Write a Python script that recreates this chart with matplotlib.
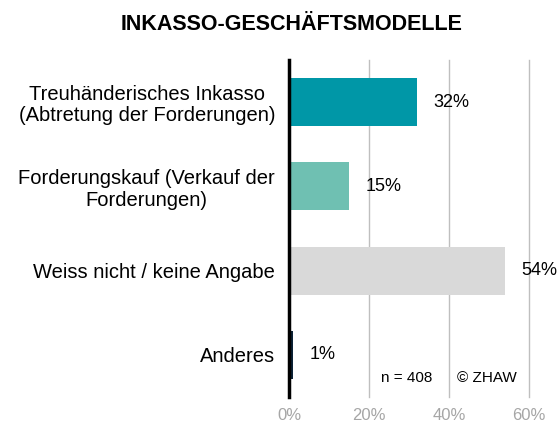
import matplotlib
matplotlib.use("Agg")
import matplotlib.pyplot as plt
from matplotlib.ticker import FuncFormatter

plt.rcParams['font.family'] = ['Liberation Sans', 'DejaVu Sans']

categories = [
    "Treuhänderisches Inkasso\n(Abtretung der Forderungen)",
    "Forderungskauf (Verkauf der\nForderungen)",
    "Weiss nicht / keine Angabe",
    "Anderes",
]
values = [32, 15, 54, 1]
colors = ["#0097a7", "#6fc0b2", "#d9d9d9", "#0b2236"]
xticks = [0, 20, 40, 60]

fig = plt.figure(figsize=(5.6, 4.23), dpi=100)
ax = fig.add_axes([289 / 560, 1 - 397 / 423, 240 / 560, 337 / 423])

ypos = list(range(len(categories)))
ax.barh(ypos, values, height=0.57, color=colors, zorder=2)
ax.set_ylim(len(categories) - 0.5, -0.5)
ax.set_xlim(0, 60)

for y, v in zip(ypos, values):
    ax.annotate(f"{v}%", xy=(v, y), xytext=(12, 0), textcoords="offset points",
                ha="left", va="center", fontsize=13, color="black")

ax.set_yticks(ypos)
ax.set_yticklabels(categories, fontsize=14.5, multialignment="center", linespacing=1.15)
ax.tick_params(axis="y", length=0, pad=10)
ax.set_xticks(xticks)
ax.xaxis.set_major_formatter(FuncFormatter(lambda x, p: f"{int(x)}%"))
ax.tick_params(axis="x", length=0, labelsize=12, labelcolor="#a6a6a6", pad=8)

ax.grid(axis="x", color="#bfbfbf", linewidth=1, zorder=0)
for gl in ax.get_xgridlines():
    gl.set_clip_on(False)
for s in ["top", "right", "bottom"]:
    ax.spines[s].set_visible(False)
ax.spines["left"].set_linewidth(2.5)
ax.spines["left"].set_color("black")
ax.spines["left"].set_zorder(3)

ax.text(0.385, 0.056, "n = 408", transform=ax.transAxes, fontsize=11, va="center",
        ha="left")
ax.text(0.70, 0.056, "© ZHAW", transform=ax.transAxes, fontsize=11, va="center",
        ha="left")

fig.text(292 / 560, 1 - 25 / 423, "INKASSO-GESCHÄFTSMODELLE", ha="center", va="center",
         fontsize=15.5, fontweight="bold")

fig.savefig("out.png", dpi=100)
